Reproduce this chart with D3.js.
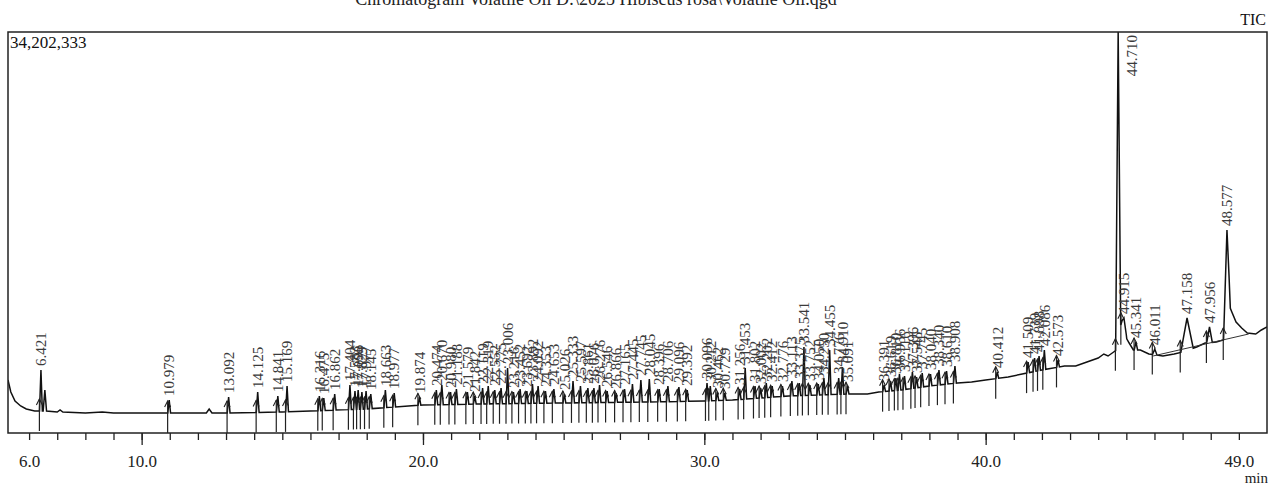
<!DOCTYPE html>
<html>
<head>
<meta charset="utf-8">
<script src="https://cdn.jsdelivr.net/npm/d3@7"></script>
<style>
  body { margin: 0; background: #fff; }
  svg { display: block; font-family: "Liberation Serif", "Times New Roman", serif; }
</style>
</head>
<body>
<script>
const title = 'Chromatogram Volatile Oil D:\\2025 Hibiscus rosa\\Volatile Oil.qgd'
const channel = 'TIC'
const maxIntensity = 34202333

// x axis (min)
const minorTicks = d3.range(6, 50, 1)
const majorTicks = [10, 20, 30, 40]
const labelTicks = [6, 10, 20, 30, 40, 49]

// baseline of the trace: [time, intensity]
const baseline = [
  [5.25, 3993000], [5.35, 2951000], [5.5, 2170000], [5.7, 1736000], [5.9, 1476000],
  [6.2, 1302000], [6.5, 1302000], [6.56, 3125000], [6.62, 1302000], [7.0, 1215000],
  [7.1, 1389000], [7.2, 1215000], [8.0, 1128000], [8.6, 1215000], [9.0, 1128000],
  [10.0, 1128000], [12.3, 1128000], [12.4, 1476000], [12.5, 1128000], [13.0, 1128000],
  [15.0, 1215000], [16.0, 1302000], [18.0, 1476000], [20.0, 1823000], [22.0, 1910000],
  [25.0, 1997000], [28.0, 2083000], [30.0, 2170000], [31.0, 2257000], [32.0, 2431000],
  [33.0, 2604000], [34.0, 2691000], [35.2, 2778000], [35.8, 2778000], [36.2, 2951000],
  [37.0, 3125000], [38.0, 3472000], [39.0, 3733000], [39.5, 3820000], [40.0, 3993000],
  [40.8, 4254000], [41.3, 4514000], [42.0, 4861000], [42.8, 5208000], [43.2, 5208000],
  [43.6, 5556000], [44.0, 5903000], [44.2, 6250000], [44.35, 6077000], [44.55, 6424000],
  [44.65, 6597000], [44.8, 8768000], [44.85, 9028000], [45.0, 7639000], [45.1, 7205000],
  [45.25, 6597000], [45.5, 6597000], [45.8, 6250000], [46.3, 6077000], [46.7, 6250000],
  [47.0, 6424000], [47.5, 6858000], [47.8, 7205000], [48.2, 7292000], [48.45, 7465000],
  [48.65, 10504000], [48.75, 9896000], [48.9, 9028000], [49.1, 8507000], [49.3, 8073000],
  [49.6, 7986000], [49.8, 8334000], [50.0, 8594000]
]

// labelled peaks: [retention time, apex intensity, half width (min)]
const peaks = [
  [6.421, 4861000, 0.05], [10.979, 2257000, 0.05], [13.092, 2517000, 0.05], [14.125, 2951000, 0.05],
  [14.841, 2604000, 0.05], [15.169, 3472000, 0.05], [16.316, 2604000, 0.05], [16.475, 2431000, 0.05],
  [16.862, 2778000, 0.05], [17.404, 3559000, 0.05], [17.583, 3038000, 0.05], [17.696, 3125000, 0.05],
  [17.829, 2951000, 0.05], [17.977, 3038000, 0.05], [18.145, 2778000, 0.05], [18.663, 3125000, 0.05],
  [18.977, 2865000, 0.05], [19.874, 2517000, 0.05], [20.474, 3125000, 0.05], [20.670, 3559000, 0.05],
  [20.980, 2951000, 0.05], [21.188, 3212000, 0.05], [21.579, 2951000, 0.05], [21.842, 2604000, 0.05],
  [22.119, 3299000, 0.05], [22.319, 3472000, 0.05], [22.552, 3125000, 0.05], [22.775, 3299000, 0.05],
  [23.006, 5035000, 0.05], [23.216, 2951000, 0.05], [23.452, 3212000, 0.05], [23.692, 3038000, 0.05],
  [23.892, 3646000, 0.05], [24.092, 3472000, 0.05], [24.353, 3038000, 0.05], [24.653, 3212000, 0.05],
  [25.026, 2778000, 0.05], [25.333, 3906000, 0.05], [25.597, 3472000, 0.05], [25.861, 3299000, 0.05],
  [26.076, 3299000, 0.05], [26.276, 3559000, 0.05], [26.546, 3038000, 0.05], [26.866, 2865000, 0.05],
  [27.165, 3212000, 0.05], [27.445, 3646000, 0.05], [27.745, 3993000, 0.05], [28.045, 4080000, 0.05],
  [28.396, 3212000, 0.05], [28.706, 3472000, 0.05], [29.096, 3386000, 0.05], [29.392, 3125000, 0.05],
  [30.096, 3733000, 0.05], [30.212, 3472000, 0.05], [30.462, 2951000, 0.05], [30.729, 2865000, 0.05],
  [31.256, 3212000, 0.05], [31.453, 5035000, 0.05], [31.802, 3472000, 0.05], [32.002, 3299000, 0.05],
  [32.202, 3733000, 0.05], [32.412, 3472000, 0.05], [32.776, 3472000, 0.05], [33.113, 3906000, 0.05],
  [33.375, 3733000, 0.05], [33.541, 6858000, 0.05], [33.752, 3559000, 0.05], [34.050, 3646000, 0.05],
  [34.250, 4167000, 0.05], [34.455, 6597000, 0.05], [34.776, 4167000, 0.05], [34.910, 5122000, 0.05],
  [35.091, 3472000, 0.05], [36.391, 3559000, 0.05], [36.619, 3906000, 0.05], [36.810, 4167000, 0.05],
  [36.936, 4514000, 0.05], [37.116, 4340000, 0.05], [37.396, 4688000, 0.05], [37.545, 4254000, 0.05],
  [37.745, 4601000, 0.05], [38.040, 4514000, 0.05], [38.340, 4861000, 0.05], [38.610, 4774000, 0.05],
  [38.908, 5208000, 0.05], [40.412, 4688000, 0.05], [41.509, 5556000, 0.05], [41.739, 5903000, 0.05],
  [41.898, 6077000, 0.05], [42.086, 6597000, 0.05], [42.573, 5729000, 0.05], [44.710, 34202333, 0.09],
  [44.915, 9375000, 0.1], [45.341, 7292000, 0.06], [46.011, 6684000, 0.08], [47.158, 9375000, 0.22],
  [47.956, 8594000, 0.1], [48.577, 17014000, 0.12]
]

// drawn integration baseline: [t0, i0, t1, i1]
const integrationLines = [[45.95, 6077000, 49.35, 7986000]]

const width = 1269, height = 486
const frame = { left: 8, right: 1267, top: 32, bottom: 433 }

const x = d3.scaleLinear().domain([5.25, 50.0]).range([frame.left, frame.right])
const y = d3.scaleLinear().domain([0, maxIntensity]).range([426, frame.top])

const svg = d3.select('body').append('svg')
  .attr('width', width)
  .attr('height', height)

svg.append('defs').append('clipPath').attr('id', 'plot')
  .append('rect')
  .attr('x', frame.left).attr('y', frame.top)
  .attr('width', frame.right - frame.left).attr('height', frame.bottom - frame.top)

// title (cut at the top of the page, as in the print) and channel
svg.append('text')
  .attr('x', 596).attr('y', 5)
  .attr('text-anchor', 'middle')
  .style('font-size', '18px').style('fill', '#222')
  .text(title)

svg.append('text')
  .attr('x', 1266).attr('y', 25)
  .attr('text-anchor', 'end')
  .style('font-size', '16px').style('fill', '#111')
  .text(channel)

// trace
const bisect = d3.bisector(d => d[0]).right
function baseAt(t) {
  const i = bisect(baseline, t)
  if (i <= 0) return baseline[0][1]
  if (i >= baseline.length) return baseline[baseline.length - 1][1]
  const a = baseline[i - 1], b = baseline[i]
  return a[1] + (b[1] - a[1]) * (t - a[0]) / (b[0] - a[0])
}
function signalAt(t) {
  const b = baseAt(t)
  let v = b
  peaks.forEach(([rt, top, w]) => {
    const f = 1 - Math.abs(t - rt) / w
    if (f > 0) v = Math.max(v, b + (top - b) * f)
  })
  return v
}
const times = baseline.map(d => d[0])
  .concat(...peaks.map(([rt, , w]) => [rt - w, rt, rt + w]))
  .sort(d3.ascending)
const trace = times.map(t => ({ t, v: signalAt(t) }))

const plot = svg.append('g').attr('clip-path', 'url(#plot)')

plot.append('path')
  .datum(trace)
  .attr('d', d3.line().x(d => x(d.t)).y(d => y(d.v)))
  .style('fill', 'none')
  .style('stroke', '#111')
  .style('stroke-width', '1.5px')

plot.selectAll('.ibase')
  .data(integrationLines)
  .join('line')
  .attr('x1', d => x(d[0])).attr('y1', d => y(d[1]))
  .attr('x2', d => x(d[2])).attr('y2', d => y(d[3]))
  .style('stroke', '#333')
  .style('stroke-width', '1px')

// peak start arrows
const arrows = plot.selectAll('.arrow')
  .data(peaks)
  .join('g')
  .attr('transform', d => {
    const t = d[0] - d[2] * 1.1
    return `translate(${x(t)},${y(baseAt(t))})`
  })
arrows.append('line')
  .attr('y1', -12).attr('y2', 20)
  .style('stroke', '#222').style('stroke-width', '1.2px')
arrows.append('path')
  .attr('d', 'M-3,-6L0,-12L3,-6')
  .style('fill', 'none').style('stroke', '#222').style('stroke-width', '1.1px')

// retention time labels
const fmt = d3.format('.3f')
plot.selectAll('.rt')
  .data(peaks)
  .join('text')
  .attr('transform', d => d[1] >= maxIntensity
    ? `translate(${x(d[0]) + 14},${frame.top + 3}) rotate(-90)`
    : `translate(${x(d[0])},${y(d[1]) - 4}) rotate(-90)`)
  .attr('text-anchor', d => d[1] >= maxIntensity ? 'end' : 'start')
  .attr('dy', '0.35em')
  .style('font-size', '15px')
  .style('fill', '#3a3a3a')
  .text(d => fmt(d[0]))

// frame
svg.append('rect')
  .attr('x', frame.left).attr('y', frame.top)
  .attr('width', frame.right - frame.left).attr('height', frame.bottom - frame.top)
  .style('fill', 'none').style('stroke', '#222').style('stroke-width', '1.5px')

svg.append('text')
  .attr('x', 10).attr('y', 48)
  .style('font-size', '17px').style('fill', '#111')
  .text(d3.format(',')(maxIntensity))

// x axis
const axisG = svg.append('g').attr('transform', `translate(0,${frame.bottom})`)
axisG.append('g')
  .call(d3.axisBottom(x).tickValues(minorTicks).tickSize(7).tickFormat('').tickSizeOuter(0))
axisG.append('g')
  .call(d3.axisBottom(x).tickValues(majorTicks).tickSize(12).tickFormat('').tickSizeOuter(0))
axisG.append('g')
  .call(d3.axisBottom(x).tickValues(labelTicks).tickSize(0).tickPadding(22)
    .tickFormat(d3.format('.1f')).tickSizeOuter(0))
axisG.selectAll('.domain').remove()
axisG.selectAll('line').style('stroke', '#222').style('stroke-width', '1.3px')
axisG.selectAll('text')
  .style('font-family', '"Liberation Serif", serif')
  .style('font-size', '17px').style('fill', '#222')

svg.append('text')
  .attr('x', 1268).attr('y', 483)
  .attr('text-anchor', 'end')
  .style('font-size', '15px').style('fill', '#222')
  .text('min')
</script>
</body>
</html>
